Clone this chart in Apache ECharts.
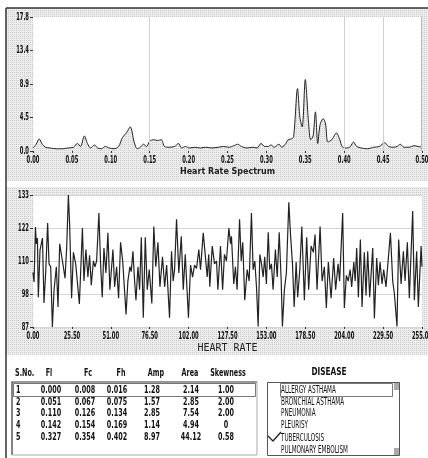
<!DOCTYPE html>
<html><head><meta charset="utf-8">
<script src="https://cdn.jsdelivr.net/npm/echarts@6/dist/echarts.min.js"></script>
<style>html,body{margin:0;padding:0;background:#fff}#c{width:428px;height:458px}</style>
</head><body><div id="c"></div>
<script>
// ---------- DATA ----------
const specFreq = [0.000,0.004,0.008,0.012,0.016,0.022,0.030,0.038,0.045,0.052,0.057,0.061,0.066,0.070,0.074,0.079,0.083,0.088,0.093,0.098,0.104,0.110,0.115,0.120,0.125,0.130,0.134,0.138,0.142,0.146,0.150,0.155,0.160,0.165,0.169,0.175,0.182,0.187,0.191,0.196,0.201,0.208,0.215,0.222,0.230,0.238,0.245,0.252,0.258,0.263,0.268,0.275,0.282,0.288,0.293,0.298,0.302,0.306,0.310,0.316,0.320,0.325,0.328,0.332,0.335,0.340,0.343,0.346,0.350,0.354,0.357,0.360,0.363,0.366,0.369,0.373,0.376,0.379,0.384,0.390,0.394,0.398,0.404,0.408,0.412,0.416,0.422,0.430,0.438,0.445,0.452,0.457,0.463,0.468,0.472,0.477,0.483,0.490,0.495,0.500];
const specAmp  = [0.4,0.9,1.6,0.9,0.5,0.4,0.3,0.3,0.4,0.5,1.0,0.6,2.0,1.0,0.4,0.8,0.4,0.3,0.6,0.4,0.3,0.6,1.8,2.4,3.2,1.2,0.3,0.5,0.9,0.6,1.3,1.5,1.4,1.5,0.6,0.5,0.6,1.0,0.4,0.6,0.4,0.5,0.4,0.5,0.4,0.5,0.6,0.5,0.7,0.9,0.6,0.4,0.5,0.4,1.0,0.6,0.6,0.8,0.5,0.9,0.5,1.0,1.5,1.6,1.9,8.3,4.5,3.2,9.5,4.0,1.5,2.0,5.2,1.0,3.5,4.3,3.6,1.2,1.5,2.4,1.6,0.5,0.4,0.6,1.2,0.6,0.4,0.3,0.5,0.6,1.1,0.6,0.5,0.6,0.9,0.5,0.5,0.7,0.6,0.5];
const specYTickLabels = ['0.0','4.5','8.9','13.4','17.8'];
const specXTickLabels = ['0.00','0.05','0.10','0.15','0.20','0.25','0.30','0.35','0.40','0.45','0.50'];
const specGridFreqs = [0.15, 0.40, 0.45];

const hrX = [0,0.7,1.6,2.2,2.9,3.5,4.6,6.2,7.2,8.3,9.6,10.5,11.6,12.7,13.8,15.3,16.4,17.5,19.3,21.0,22.1,23.2,24.0,25.3,26.5,28.0,30.4,32.4,33.4,34.7,36.0,37.1,38.2,39.6,40.6,41.7,43.2,44.3,45.4,46.5,47.8,49.1,50.4,
52.4,53.5,54.8,56.1,57.4,58.8,61.0,62.2,63.5,64.4,65.5,66.6,67.5,68.8,69.9,71.0,72.3,73.6,74.9,76.2,77.9,79.2,80.5,81.9,83.2,84.9,86.3,87.6,89.5,90.8,91.9,92.8,94.1,95.6,97.2,98.5,99.8,101.9,103.3,104.6,105.9,107.2,108.7,109.8,
111.6,114.2,115.2,115.9,117.5,119.0,120.3,121.2,122.9,124.3,125.5,126.8,128.4,129.5,130.1,131.6,132.7,133.8,135.4,136.5,137.5,138.8,140.4,141.7,143.2,144.3,145.4,146.5,147.6,148.7,149.8,150.9,151.9,153.0,154.2,155.2,156.3,157.4,158.9,160.1,161.4,162.7,163.5,164.8,166.1,167.7,168.8,170.1,171.2,172.5,173.5,174.9,176.2,
177.9,179.4,180.7,182.3,183.8,184.9,186.2,188.2,189.5,191.0,192.3,193.6,195.4,197.1,198.4,200.0,201.0,203.0,204.1,205.4,206.6,207.9,208.9,210.3,211.2,212.2,213.3,214.6,215.7,217.2,218.3,219.4,220.7,222.7,223.8,225.3,226.4,227.5,228.8,229.9,231.4,234.3,235.8,236.9,238.6,239.7,241.3,242.8,243.9,245.4,246.7,248.9,250.0,251.5,252.6,254.4,255];
const hrVal = [106,102.7,121.8,116,118,97.4,113.8,118,95.4,105.8,123.2,109,108,87,99.9,108,94,116,110,104,115,133,123,97,113,109,95,121.5,103,114,104.4,112,101.6,110,108,110,126.7,109,97.4,114.5,105.8,119.8,100,
114,101,108,97,116.5,110,91.4,103,108,106.3,113.4,103,96.3,108,100,118.3,90.2,118.3,100,107,95.2,122,108,116.5,101,111.5,101,108.6,90.2,113.4,103,107,124.5,105.8,118.6,100,112.3,90.2,108.6,104.4,108.6,107.4,114,107,
119.8,104.4,112.3,101,115.2,109,110,100,115.2,100,112.3,110,121.5,116,118.6,102,108,100,124.5,110,116.5,96.3,107,103,126.7,107,110,101,87.2,112.3,109,104.4,111.5,102,120,107,109,100,114,104.4,120,103,87.2,100,105.8,130.5,119.2,109,94,109.6,97.4,107,122,
96.3,118.3,100,115.2,113,119.2,100,122,103,108,93.6,109.6,97,111,100,109,103,126.7,93.6,105,103,107,101,109.6,103,114.5,97.4,117.5,94,113,98,113.4,97.4,114.5,90,111,101.6,109.6,102,107,101,119.8,103,98.6,87.2,117.5,102,113.4,103,116.5,97,127.4,96.3,113.4,94,115.2,108];
const hrYTickLabels = ['87','98','110','122','133'];
const hrXTickLabels = ['0.00','25.50','51.00','76.50','102.00','127.50','153.00','178.50','204.00','229.50','255.00'];

const tableHeader = ['S.No.','Fl','Fc','Fh','Amp','Area','Skewness'];
const colSNo = ['1','2','3','4','5'];
const colFl = ['0.000','0.051','0.110','0.142','0.327'];
const colFc = ['0.008','0.067','0.126','0.154','0.354'];
const colFh = ['0.016','0.075','0.134','0.169','0.402'];
const colAmp = ['1.28','1.57','2.85','1.14','8.97'];
const colArea = ['2.14','2.85','7.54','4.94','44.12'];
const colSkew = ['1.00','2.00','2.00','0','0.58'];
const diseases = ['ALLERGY ASTHAMA','BRONCHIAL ASTHAMA','PNEUMONIA','PLEURISY','TUBERCULOSIS','PULMONARY EMBOLISM'];
const checkedDisease = 'TUBERCULOSIS';

// ---------- STYLE ----------
const COND = '"DejaVu Sans Condensed","DejaVu Sans",sans-serif';
function makePattern(){
  const c=document.createElement('canvas'); c.width=4; c.height=4;
  const g=c.getContext('2d');
  g.fillStyle='#ececec'; g.fillRect(0,0,4,4);
  g.fillStyle='#cbcbcb';
  g.fillRect(0,0,1,1); g.fillRect(2,0,1,1); g.fillRect(0,2,1,1);
  g.fillStyle='#dadada'; g.fillRect(2,2,1,1);
  return c;
}
const pat = {image: makePattern(), repeat:'repeat'};
function txt(t, x, y, font, align, sx){
  return {type:'text', z:50, x:x, y:y, scaleX:sx||1,
    style:{text:t, fill:'#111', font:font, textAlign:align||'center', textVerticalAlign:'middle'}};
}

const specData = specFreq.map((f,i)=>[f,specAmp[i]]);
const hrData = hrX.map((x,i)=>[x,hrVal[i]]);

const graphic = [];
graphic.push({type:'rect', z:-10, shape:{x:6,y:8,width:422,height:173}, style:{fill:pat}});
graphic.push({type:'rect', z:-10, shape:{x:6,y:187,width:422,height:168}, style:{fill:pat}});
graphic.push({type:'line', z:50, shape:{x1:6,y1:8,x2:6,y2:458}, style:{stroke:'#333',lineWidth:1.5}});
graphic.push({type:'line', z:50, shape:{x1:6,y1:8,x2:428,y2:8}, style:{stroke:'#333',lineWidth:1.5}});
graphic.push({type:'line', z:50, shape:{x1:421.5,y1:17,x2:421.5,y2:151}, style:{stroke:'#bbb',lineWidth:1}});

// table
const TF = 'bold 10.5px '+COND, TS = 0.68;
const headX = [15,49,88,121,156,190,228];
const colX = [16,51,85,117,152,191,226];
const rowY = [390,402,413,425,437];
tableHeader.forEach((h,i)=>graphic.push(txt(h, headX[i], 373, TF, i===0?'left':'center', TS)));
const cols = [colSNo,colFl,colFc,colFh,colAmp,colArea,colSkew];
cols.forEach((col,ci)=>col.forEach((v,ri)=>graphic.push(txt(v, colX[ci], rowY[ri], TF, ci===0?'left':'center', TS))));
graphic.push({type:'polyline', z:50, shape:{points:[[257,382],[12,382],[12,455]]}, style:{stroke:'#333',lineWidth:1.2,fill:null}});
graphic.push({type:'polyline', z:50, shape:{points:[[12,455],[257,455],[257,382]]}, style:{stroke:'#aaa',lineWidth:1,fill:null}});
graphic.push({type:'rect', z:50, shape:{x:13.5,y:383.5,width:242,height:13}, style:{stroke:'#555',lineWidth:0.8,fill:null}});

// disease list
graphic.push(txt('DISEASE', 329, 372, TF, 'center', 0.78));
graphic.push({type:'rect', z:50, shape:{x:267.5,y:382.5,width:132,height:73}, style:{stroke:'#555',lineWidth:1,fill:null}});
graphic.push({type:'rect', z:50, shape:{x:280.5,y:383.5,width:112,height:13}, style:{stroke:'#555',lineWidth:0.8,fill:null}});
graphic.push({type:'rect', z:50, shape:{x:394,y:383,width:5,height:7}, style:{fill:'#aaa'}});
graphic.push({type:'rect', z:50, shape:{x:394,y:448,width:5,height:7}, style:{fill:'#aaa'}});
const listY = [390,402,413,425,438,450];
diseases.forEach((d,i)=>{
  graphic.push(txt(d, 281, listY[i], '10.5px '+COND, 'left', 0.6));
  if (d===checkedDisease) graphic.push({type:'polyline', z:50, shape:{points:[[268,436],[273,441],[281,432]]}, style:{stroke:'#222',lineWidth:1.3,fill:null}});
});

const tick = {show:true, length:2, lineStyle:{color:'#333'}};
const option = {
  animation:false,
  backgroundColor:'#fff',
  grid:[
    {left:33, right:6, top:17, height:134, show:true, backgroundColor:'#fff', borderWidth:0, outerBoundsMode:'none', containLabel:false},
    {left:33, right:6, top:195, height:132, show:true, backgroundColor:'#fff', borderWidth:0, outerBoundsMode:'none', containLabel:false}
  ],
  xAxis:[
    {gridIndex:0, type:'value', min:0, max:0.5, interval:0.05,
     axisLine:{show:false}, axisTick:tick, splitLine:{show:false}, axisLabel:{show:false},
     name:'Heart Rate Spectrum', nameLocation:'middle', nameGap:17,
     nameTextStyle:{fontFamily:'DejaVu Sans', fontWeight:'bold', fontSize:8, color:'#222'}},
    {gridIndex:1, type:'value', min:0, max:255, interval:25.5,
     axisLine:{show:false}, axisTick:tick, splitLine:{show:false}, axisLabel:{show:false},
     name:'HEART RATE', nameLocation:'middle', nameGap:16,
     nameTextStyle:{fontFamily:'DejaVu Sans Mono', fontSize:10, color:'#222'}}
  ],
  yAxis:[
    {gridIndex:0, type:'value', min:0, max:17.8, interval:4.45,
     axisLine:{show:false}, axisTick:{show:true, length:3, lineStyle:{color:'#333'}}, splitLine:{show:false}, axisLabel:{show:false}},
    {gridIndex:1, type:'value', min:87, max:133, interval:11.5,
     axisLine:{show:false}, axisTick:{show:true, length:3, lineStyle:{color:'#333'}},
     splitLine:{show:true, lineStyle:{color:'#d4d4d4', width:1}}, axisLabel:{show:false}}
  ],
  series:[
    {type:'line', xAxisIndex:0, yAxisIndex:0, data:specData, showSymbol:false, smooth:0.3,
     lineStyle:{color:'#222', width:1}, areaStyle:{color:pat, opacity:1},
     markLine:{silent:true, symbol:'none', label:{show:false}, lineStyle:{color:'#d0d0d0', type:'solid', width:1},
       data:specGridFreqs.map(f=>({xAxis:f}))}},
    {type:'line', xAxisIndex:1, yAxisIndex:1, data:hrData, showSymbol:false,
     lineStyle:{color:'#222', width:1.2}}
  ],
  graphic:graphic
};
const chart = echarts.init(document.getElementById('c'));
chart.setOption(option);

// axis tick labels placed through the axes' own scales (narrow font needs scaleX)
const AF = 'bold 10px '+COND, AS = 0.58;
const labels = [];
function addAxisLabels(gi, xLabels, yLabels, yMin, yMax){
  const base = chart.convertToPixel({gridIndex:gi}, [0, yMin])[1];
  xLabels.forEach(l=>{
    const p = chart.convertToPixel({gridIndex:gi}, [parseFloat(l), yMin]);
    labels.push(txt(l, p[0], base+9, AF, 'center', AS));
  });
  yLabels.forEach((l,i)=>{
    const v = yMin + i*(yMax-yMin)/(yLabels.length-1);
    const p = chart.convertToPixel({gridIndex:gi}, [0, v]);
    labels.push(txt(l, 29, p[1], AF, 'right', AS));
  });
}
addAxisLabels(0, specXTickLabels, specYTickLabels, 0, 17.8);
addAxisLabels(1, hrXTickLabels, hrYTickLabels, 87, 133);
chart.setOption({graphic: graphic.concat(labels)});
</script></body></html>
